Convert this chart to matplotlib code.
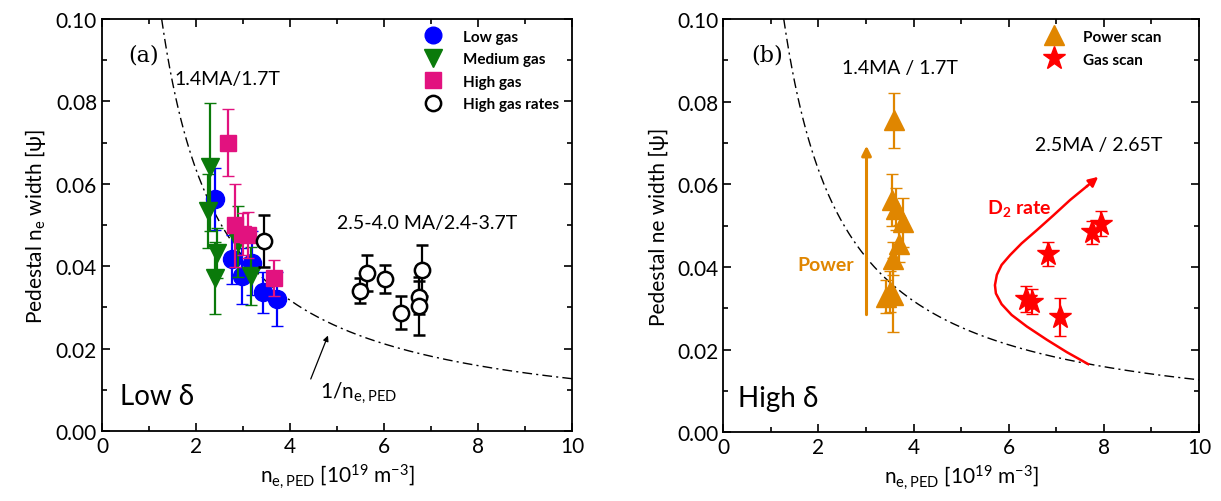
import numpy as np
import matplotlib
matplotlib.use('Agg')
import matplotlib.pyplot as plt
from matplotlib.lines import Line2D

plt.rcParams['font.family'] = ['Lato', 'DejaVu Sans']
plt.rcParams['mathtext.default'] = 'regular'

# ---- panel (a): low delta ----
low_x = [2.40, 2.76, 2.97, 3.19, 3.43, 3.72]
low_y = [0.0563, 0.0417, 0.0377, 0.0408, 0.0337, 0.0320]
low_e = [0.0075, 0.0060, 0.0068, 0.0078, 0.0050, 0.0065]

med_x = [2.90, 2.30, 2.26, 2.44, 2.40, 3.18]
med_y = [0.0460, 0.0640, 0.0535, 0.0432, 0.0372, 0.0376]
med_e = [0.0085, 0.0155, 0.0090, 0.0060, 0.0088, 0.0070]

high_x = [2.69, 2.83, 3.00, 3.11, 3.67]
high_y = [0.0700, 0.0499, 0.0478, 0.0476, 0.0371]
high_e = [0.0082, 0.0100, 0.0050, 0.0056, 0.0044]

rate_x = [3.45, 5.48, 5.63, 6.02, 6.36, 6.74, 6.74, 6.80]
rate_y = [0.0461, 0.0341, 0.0384, 0.0369, 0.0287, 0.0325, 0.0303, 0.0390]
rate_e = [0.0063, 0.0031, 0.0044, 0.0035, 0.0040, 0.0040, 0.0071, 0.0062]

# ---- panel (b): high delta ----
pow_x = [3.59, 3.55, 3.64, 3.78, 3.70, 3.57, 3.42, 3.57, 3.50]
pow_y = [0.0755, 0.0562, 0.0540, 0.0508, 0.0456, 0.0420, 0.0328, 0.0332, 0.0340]
pow_e = [0.0067, 0.0062, 0.0050, 0.0060, 0.0045, 0.0040, 0.0040, 0.0090, 0.0050]

gas_x = [6.37, 6.48, 7.07, 6.83, 7.74, 7.93]
gas_y = [0.0323, 0.0316, 0.0279, 0.0432, 0.0484, 0.0505]
gas_e = [0.0032, 0.0030, 0.0046, 0.0029, 0.0028, 0.0030]

# guide for the D2 rate trajectory (hand drawn in the original)
d2_x = [7.67, 7.22, 6.80, 6.38, 6.06, 5.85, 5.73, 5.71, 5.75, 5.85,
        6.03, 6.27, 6.59, 6.94, 7.29, 7.64, 7.88]
d2_y = [0.0165, 0.0194, 0.0224, 0.0256, 0.0284, 0.0310, 0.0336, 0.0356,
        0.0381, 0.0405, 0.0429, 0.0457, 0.0489, 0.0525, 0.0562, 0.0595, 0.0618]

# 1/n reference curve
curve_c = 0.127

BLUE = '#0000FF'
GREEN = '#0A7A0A'
PINK = '#E2127F'
ORANGE = '#E08600'
RED = '#FF0000'


def style_axes(ax, ylabel):
    ax.set_xlim(0, 10)
    ax.set_ylim(0, 0.10)
    ax.set_xticks([0, 2, 4, 6, 8, 10])
    ax.set_xticks([1, 3, 5, 7, 9], minor=True)
    ax.set_yticks(np.arange(0, 0.101, 0.02))
    ax.set_yticks(np.arange(0.01, 0.1, 0.02), minor=True)
    ax.set_yticklabels(['%.2f' % v for v in np.arange(0, 0.101, 0.02)])
    ax.tick_params(which='both', direction='in', top=True, right=True,
                   labelsize=15, width=1.2)
    ax.tick_params(which='major', length=6)
    ax.tick_params(which='minor', length=3.5)
    for s in ax.spines.values():
        s.set_linewidth(1.3)
    ax.set_xlabel(r'n$_{e,PED}$ [10$^{19}$ m$^{-3}$]', fontsize=15, labelpad=4)
    ax.set_ylabel(ylabel, fontsize=15, labelpad=6)
    xx = np.linspace(curve_c / 0.1, 10, 300)
    ax.plot(xx, curve_c / xx, color='black', lw=1.0,
            linestyle=(0, (7, 3, 1.5, 3)), zorder=1)


def ebar(ax, x, y, e, color, marker, ms, mfc=None, mew=1.0, z=3):
    ax.errorbar(x, y, yerr=e, fmt=marker, color=color, ms=ms,
                mfc=mfc if mfc is not None else color, mec=color, mew=mew,
                elinewidth=1.6, capsize=4, capthick=1.6, zorder=z)


fig = plt.figure(figsize=(12.21, 5.02), dpi=100)
ax1 = fig.add_axes([0.0835, 0.1394, 0.385, 0.8207])
ax2 = fig.add_axes([0.5924, 0.1368, 0.3896, 0.8235])

# panel (a)
style_axes(ax1, r'Pedestal n$_e$ width [ψ]')
ebar(ax1, low_x, low_y, low_e, BLUE, 'o', 13, z=3)
ebar(ax1, med_x, med_y, med_e, GREEN, 'v', 13, z=4)
ebar(ax1, high_x, high_y, high_e, PINK, 's', 11, z=5)
ebar(ax1, rate_x, rate_y, rate_e, 'black', 'o', 11, mfc='white', mew=1.8, z=6)

h1 = [Line2D([], [], ls='none', marker='o', color=BLUE, ms=12),
      Line2D([], [], ls='none', marker='v', color=GREEN, ms=13),
      Line2D([], [], ls='none', marker='s', color=PINK, ms=11),
      Line2D([], [], ls='none', marker='o', mfc='white', mec='black', mew=1.8, ms=11)]
ax1.legend(h1, ['Low gas', 'Medium gas', 'High gas', 'High gas rates'],
           loc='upper left', bbox_to_anchor=(0.65, 1.0), frameon=False,
           prop={'weight': 'bold', 'size': 11}, handletextpad=0.9,
           labelspacing=0.55, borderaxespad=0.3)

ax1.text(0.55, 0.0913, '(a)', fontsize=16, family='DejaVu Serif', va='center')
ax1.text(1.55, 0.0855, '1.4MA/1.7T', fontsize=14, va='center')
ax1.text(5.0, 0.0506, '2.5-4.0 MA/2.4-3.7T', fontsize=14, va='center')
ax1.text(0.38, 0.0085, 'Low δ', fontsize=20, va='center')
ax1.text(4.64, 0.0095, r'1/n$_{e,PED}$', fontsize=15, va='center')
ax1.annotate('', xy=(4.83, 0.0238), xytext=(4.42, 0.0120),
             arrowprops=dict(arrowstyle='-|>', color='black', lw=0.9,
                             mutation_scale=8))

# panel (b)
style_axes(ax2, 'Pedestal ne width [ψ]')
ebar(ax2, pow_x, pow_y, pow_e, ORANGE, '^', 14, z=3)
ebar(ax2, gas_x, gas_y, gas_e, RED, '*', 17, z=4)

h2 = [Line2D([], [], ls='none', marker='^', color=ORANGE, ms=14),
      Line2D([], [], ls='none', marker='*', color=RED, ms=17)]
ax2.legend(h2, ['Power scan', 'Gas scan'],
           loc='upper left', bbox_to_anchor=(0.64, 1.0), frameon=False,
           prop={'weight': 'bold', 'size': 11}, handletextpad=0.9,
           labelspacing=0.6, borderaxespad=0.3)

ax2.text(0.58, 0.0915, '(b)', fontsize=16, family='DejaVu Serif', va='center')
ax2.text(2.5, 0.0883, '1.4MA / 1.7T', fontsize=14, va='center')
ax2.text(6.55, 0.0697, '2.5MA / 2.65T', fontsize=14, va='center')
ax2.text(0.3, 0.0083, 'High δ', fontsize=20, va='center')
ax2.text(1.55, 0.0405, 'Power', fontsize=14, color=ORANGE, weight='bold', va='center')
ax2.annotate('', xy=(3.01, 0.0700), xytext=(3.01, 0.0278),
             arrowprops=dict(arrowstyle='-|>', color=ORANGE, lw=2.2,
                             mutation_scale=14))
ax2.text(5.55, 0.0545, r'D$_2$ rate', fontsize=14, color=RED, weight='bold', va='center')
ax2.plot(d2_x[:-1], d2_y[:-1], color=RED, lw=1.8, zorder=2)
ax2.annotate('', xy=(d2_x[-1], d2_y[-1]), xytext=(d2_x[-2], d2_y[-2]),
             arrowprops=dict(arrowstyle='-|>', color=RED, lw=1.8,
                             mutation_scale=14, shrinkA=0, shrinkB=0))

fig.savefig('out.png', dpi=100)
